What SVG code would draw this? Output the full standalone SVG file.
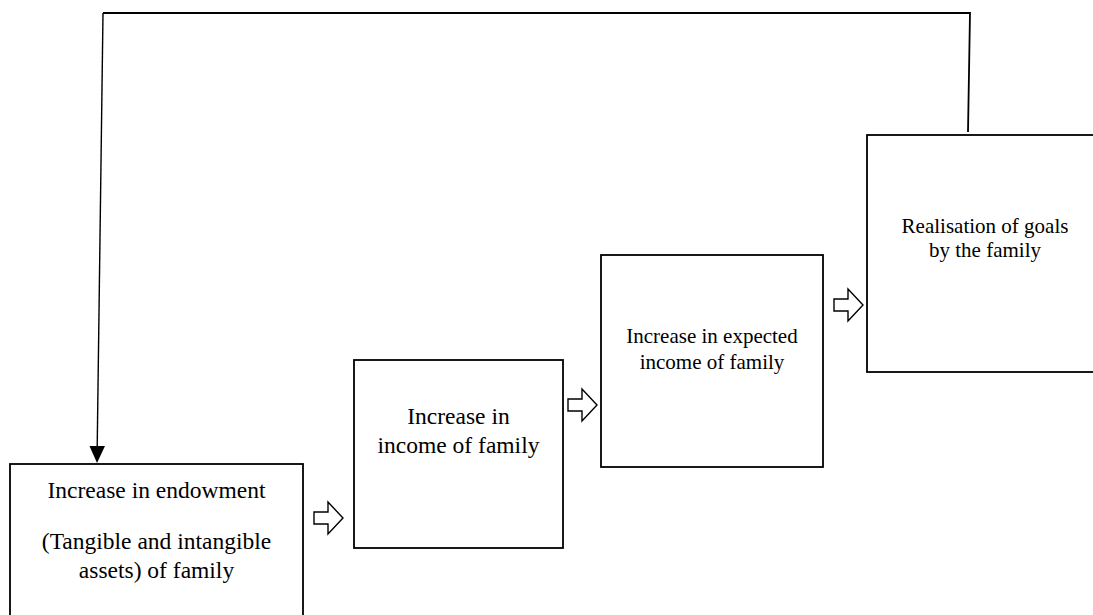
<svg xmlns="http://www.w3.org/2000/svg" width="1093" height="615" viewBox="0 0 1093 615">
<defs>
<style>
.box{fill:#fff;stroke:#000;stroke-width:1.8}
.t{font-family:"Liberation Serif","Times New Roman",serif;fill:#000;text-anchor:middle}
.big{font-size:23.5px}
.sm{font-size:21px}
.blk{fill:#fff;stroke:#000;stroke-width:1.4;stroke-linejoin:miter}
.ln{fill:none;stroke:#000;stroke-width:1.8}
</style>
<path id="blockArrow" d="M0,-6 L14,-6 L14,-16 L29,0 L14,16 L14,6 L0,6 Z"/>
</defs>
<rect width="1093" height="615" fill="#fff"/>
<g id="connectors">
<path class="ln" d="M968,132 L970,13 L103,13"/>
<path class="ln" style="stroke-width:1.4" d="M103,13 L97.2,447"/>
<path d="M89.5,446 L105,446 L97,463 Z" fill="#000"/>
<use href="#blockArrow" class="blk" x="314" y="518"/>
<use href="#blockArrow" class="blk" x="568" y="405"/>
<use href="#blockArrow" class="blk" x="834" y="305"/>
</g>
<g id="node-endowment">
<rect class="box" x="10" y="464" width="293" height="200"/>
<text class="t big" x="156.5" y="498">Increase in endowment</text>
<text class="t big" x="156.5" y="549">(Tangible and intangible</text>
<text class="t big" x="156.5" y="578">assets) of family</text>
</g>
<g id="node-income">
<rect class="box" x="354" y="360" width="209" height="188"/>
<text class="t big" x="458.5" y="424">Increase in</text>
<text class="t big" x="458.5" y="453">income of family</text>
</g>
<g id="node-expected">
<rect class="box" x="601" y="255" width="222" height="212"/>
<text class="t sm" x="712" y="343">Increase in expected</text>
<text class="t sm" x="712" y="369">income of family</text>
</g>
<g id="node-goals">
<rect class="box" x="867" y="135" width="236" height="237"/>
<text class="t sm" x="985" y="233">Realisation of goals</text>
<text class="t sm" x="985" y="257">by the family</text>
</g>
</svg>
